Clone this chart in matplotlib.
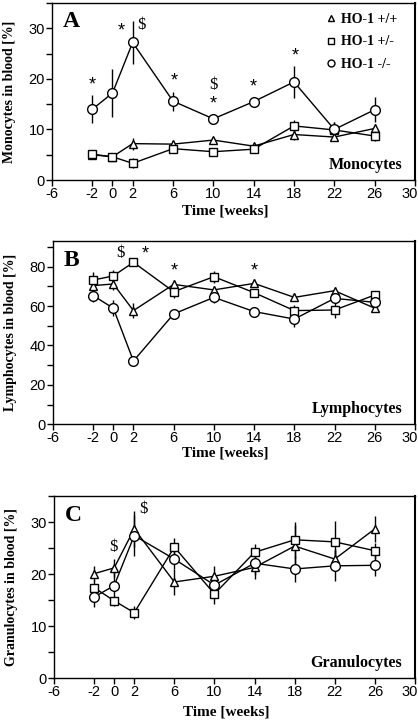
import matplotlib
matplotlib.use("Agg")
import matplotlib.pyplot as plt
import matplotlib.transforms as mtransforms
from matplotlib.lines import Line2D
from matplotlib.ticker import MultipleLocator

plt.rcParams['axes.unicode_minus'] = False

# time points (weeks)
weeks = [-2, 0, 2, 6, 10, 14, 18, 22, 26]

# A: monocytes [%]
mono_wt = [5.0, 4.6, 7.2, 7.1, 7.9, 6.7, 9.0, 8.5, 10.2]
mono_wt_err = [0.8, 0.6, 1.2, 0.6, 0.6, 0.6, 1.0, 0.8, 0.8]
mono_het = [5.1, 4.6, 3.3, 6.2, 5.6, 6.1, 10.7, 9.9, 8.7]
mono_het_err = [0.6, 0.6, 1.0, 0.6, 0.5, 0.6, 1.2, 1.5, 1.0]
mono_ko = [14.0, 17.2, 27.2, 15.6, 12.1, 15.5, 19.4, 10.0, 13.9]
mono_ko_err = [2.8, 4.7, 4.2, 1.9, 0.9, 0.5, 3.2, 1.5, 2.5]
mono_marks = [(-2, 18.8, '*'), (0.9, 29.4, '*'), (2.9, 30.7, '$'), (6.1, 19.6, '*'),
              (10, 18.7, '$'), (10, 15.1, '*'), (14, 18.4, '*'), (18.1, 24.5, '*')]

# B: lymphocytes [%]
lym_wt = [70.4, 71.2, 57.7, 71.0, 68.2, 71.5, 64.4, 67.8, 58.9]
lym_wt_err = [3, 3, 4, 2, 2, 2, 2, 2, 2]
lym_het = [73.2, 75.3, 82.2, 67.3, 74.9, 66.8, 57.7, 58.0, 65.6]
lym_het_err = [4, 3, 1.5, 3, 3, 2, 3, 4, 2]
lym_ko = [65.3, 58.9, 32.1, 56.0, 64.4, 57.2, 53.4, 63.9, 61.9]
lym_ko_err = [3, 4, 1, 1.5, 3, 2, 4, 2, 2]
lym_marks = [(0.7, 86.8, '$'), (3.2, 86.4, '*'), (6.1, 78, '*'), (14, 78, '*')]

# C: granulocytes [%]
gran_wt = [20.1, 21.2, 28.7, 18.5, 19.6, 21.3, 25.4, 22.9, 28.7]
gran_wt_err = [1.5, 1.8, 3.5, 2.5, 2, 1.5, 4, 2, 2.5]
gran_het = [17.4, 14.9, 12.6, 25.2, 16.2, 24.2, 26.6, 26.2, 24.5]
gran_het_err = [1.5, 1, 1.2, 1.8, 2, 1.5, 3.5, 4, 1.5]
gran_ko = [15.6, 17.8, 27.4, 22.9, 17.9, 22.1, 21.0, 21.6, 21.7]
gran_ko_err = [2, 3, 4, 2, 2, 3, 2.5, 3, 2]
gran_marks = [(-0.1, 25.3, '$'), (2.9, 32.5, '$')]

xticks = [-6, -2, 0, 2, 6, 10, 14, 18, 22, 26, 30]
legend_labels = ['HO-1 +/+', 'HO-1 +/-', 'HO-1 -/-']

SERIF = 'Liberation Serif'
SANS = 'Liberation Sans'

fig = plt.figure(figsize=(4.18, 7.21), dpi=100)


def panel(rect, ylim, major, ylabel, letter, name, series, marks, xlab_y):
    ax = fig.add_axes(rect)
    # series: (y, err, marker, size)
    for y, err, mk, ms in series:
        ax.errorbar(weeks, y, yerr=err, fmt='none', ecolor='black', elinewidth=1, capsize=0, zorder=2)
        ax.plot(weeks, y, color='black', lw=1, marker=mk, ms=ms, mfc='white', mec='black',
                mew=1, zorder=3)
    ax.set_xlim(-6, 30)
    ax.set_ylim(*ylim)
    ax.set_xticks(xticks)
    ax.yaxis.set_major_locator(MultipleLocator(major))
    ax.yaxis.set_minor_locator(MultipleLocator(major / 2))
    ax.tick_params(axis='both', direction='out', length=4, width=1, labelsize=10.5, pad=1)
    ax.tick_params(axis='y', which='minor', direction='out', length=4, width=1)
    for lab in ax.get_xticklabels() + ax.get_yticklabels():
        lab.set_fontfamily(SANS)
    # last x label sits against the image edge
    last = ax.get_xticklabels()[-1]
    last.set_transform(last.get_transform() + mtransforms.ScaledTranslation(-5 / 100, 0, fig.dpi_scale_trans))
    for s in ax.spines.values():
        s.set_linewidth(1)
    ax.spines['right'].set_linewidth(1.5)
    ax.set_ylabel(ylabel, fontfamily=SERIF, fontweight='bold', fontsize=10)
    ax.yaxis.set_label_coords(-0.1, 0.5)
    ax.set_xlabel('Time [weeks]', fontfamily=SERIF, fontweight='bold', fontsize=11)
    ax.xaxis.set_label_coords(0.477, xlab_y)
    ax.text(0.03, 0.893, letter, transform=ax.transAxes, fontfamily=SERIF, fontweight='bold',
            fontsize=17, ha='left', va='center')
    ax.text(0.964, 0.085, name, transform=ax.transAxes, fontfamily=SERIF, fontweight='bold',
            fontsize=11.5, ha='right', va='center')
    for x, y, t in marks:
        if t == '*':
            ax.text(x, y, t, fontfamily=SANS, fontsize=13, ha='center', va='center')
        else:
            ax.text(x, y, t, fontfamily=SERIF, fontsize=12, ha='center', va='center')
    return ax


axA = panel([0.1244, 0.7503, 0.8684, 0.2455], (0, 35), 10, 'Monocytes in blood [%]', 'A', 'Monocytes',
            [(mono_wt, mono_wt_err, '^', 6), (mono_het, mono_het_err, 's', 6),
             (mono_ko, mono_ko_err, 'o', 7)], mono_marks, -0.14)
axB = panel([0.1268, 0.4115, 0.8660, 0.2542], (0, 93), 20, 'Lymphocytes in blood [%]', 'B', 'Lymphocytes',
            [(lym_wt, lym_wt_err, '^', 6), (lym_het, lym_het_err, 's', 6),
             (lym_ko, lym_ko_err, 'o', 7)], lym_marks, -0.12)
axC = panel([0.1292, 0.0592, 0.8636, 0.2528], (0, 35), 10, 'Granulocytes in blood [%]', 'C', 'Granulocytes',
            [(gran_wt, gran_wt_err, '^', 6), (gran_het, gran_het_err, 's', 6),
             (gran_ko, gran_ko_err, 'o', 7)], gran_marks, -0.15)

handles = [Line2D([], [], ls='none', marker=m, ms=5, mfc='white', mec='black', mew=1)
           for m in ['^', 's', 'o']]
axA.legend(handles, legend_labels, loc='upper right', bbox_to_anchor=(0.978, 1.0), frameon=False,
           handlelength=0.8, handletextpad=0.3, labelspacing=0.7, borderaxespad=0.3,
           prop={'family': SERIF, 'weight': 'bold', 'size': 10})

fig.savefig('out.png', dpi=100)
